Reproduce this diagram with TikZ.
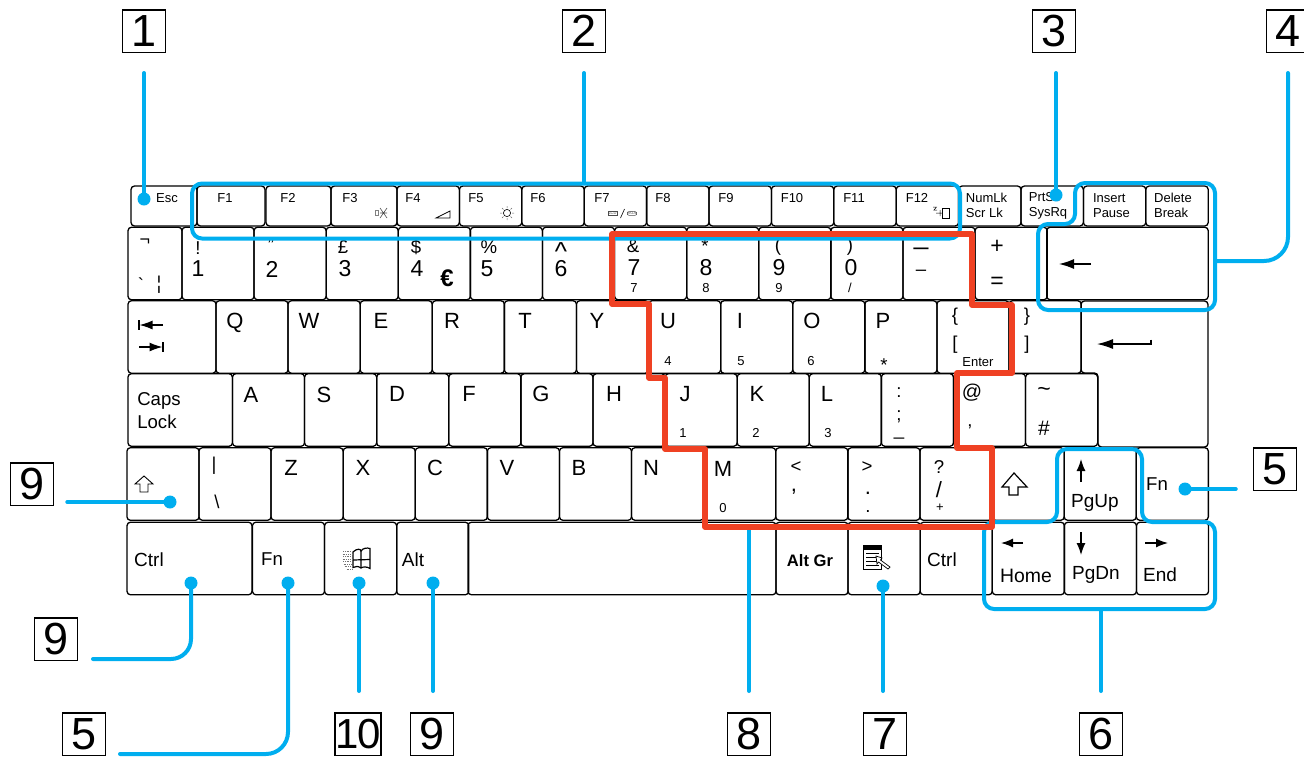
\documentclass[tikz,border=0pt]{standalone}
\usepackage{fontspec}
\setmainfont{Liberation Sans}
\usetikzlibrary{arrows.meta}
\usetikzlibrary{positioning}
\definecolor{calloutblue}{RGB}{0,174,239}
\definecolor{groupred}{RGB}{239,65,35}
\tikzset{
    keycap/.style={
           draw=black, line width=1.3pt,
           rectangle, rounded corners=3.5pt,
           inner sep=0pt, outer sep=0pt,
           },
}
\tikzset{
    fkey/.style={
           keycap,
           minimum width=62.4pt, minimum height=40pt,
           node distance=62.4pt,
           },
}
\tikzset{
    bigkey/.style={
           keycap,
           minimum width=72.1pt, minimum height=72.6pt,
           node distance=72.1pt,
           },
}
\tikzset{
    capxl/.style={inner sep=0pt, font=\fontsize{23}{23}\selectfont},
    capl/.style={inner sep=0pt, font=\fontsize{22}{22}\selectfont},
    capm/.style={inner sep=0pt, font=\fontsize{18.6}{23}\selectfont, align=left},
    caps/.style={inner sep=0pt, font=\fontsize{13}{15}\selectfont, align=left},
    capsub/.style={inner sep=0pt, font=\fontsize{13}{13}\selectfont},
}
\tikzset{
    glyph/.style={line width=1.3pt, -{Latex[length=12pt,width=9pt]}},
    outline/.style={draw=black, line width=0.9pt, fill=white},
}
\tikzset{
    calloutnum/.style={
           draw=black, line width=1.5pt,
           rectangle, minimum width=43pt, minimum height=42.5pt,
           inner sep=0pt,
           font=\fontsize{45}{45}\selectfont,
           },
}
\tikzset{
    dot/.style={
           circle, fill=calloutblue,
           minimum size=13pt, inner sep=0pt,
           },
    leader/.style={
           draw=calloutblue, line width=4pt, line cap=round,
           },
    bluegroup/.style={
           draw=calloutblue, line width=4pt, rounded corners=10pt,
           },
    redgroup/.style={
           draw=groupred, line width=5.5pt, line join=round,
           },
}

\begin{document}
\begin{tikzpicture}[x=1pt,y=-1pt]
\useasboundingbox (0,0) rectangle (1304,756);
\node[fkey,minimum width=66pt] (esc) at (164,206) {};
\node[fkey,minimum width=68pt] (f1) at (231,206) {};
\node[fkey,minimum width=65pt] (f2) at (298.5,206) {};
\node[fkey,minimum width=66pt] (f3) at (364,206) {};
\node[fkey] (f4) at (428.2,206) {};
\node[fkey,right of=f4] (f5) {};
\node[fkey,right of=f5] (f6) {};
\node[fkey,right of=f6] (f7) {};
\node[fkey,right of=f7] (f8) {};
\node[fkey,right of=f8] (f9) {};
\node[fkey,right of=f9] (f10) {};
\node[fkey,right of=f10] (f11) {};
\node[fkey,right of=f11] (f12) {};
\node[fkey,right of=f12] (numlk) {};
\node[fkey,right of=numlk] (prtsc) {};
\node[fkey,right of=prtsc] (insert) {};
\node[fkey,right of=insert] (delete) {};

\node[bigkey,minimum width=54pt] (nott) at (155,263.5) {};
\node[bigkey] (k1) at (218,263.5) {};
\node[bigkey,right of=k1] (k2) {};
\node[bigkey,right of=k2] (k3) {};
\node[bigkey,right of=k3] (k4) {};
\node[bigkey,right of=k4] (k5) {};
\node[bigkey,right of=k5] (k6) {};
\node[bigkey,right of=k6] (k7) {};
\node[bigkey,right of=k7] (k8) {};
\node[bigkey,right of=k8] (k9) {};
\node[bigkey,right of=k9] (k0) {};
\node[bigkey,right of=k0] (minus) {};
\node[bigkey,right of=minus] (equal) {};
\node[bigkey,minimum width=161.5pt] (backsp) at (1127.5,263.5) {};

\node[bigkey,minimum width=88pt] (tab) at (172,337) {};
\node[bigkey] (q) at (252,337) {};
\node[bigkey,right of=q] (w) {};
\node[bigkey,right of=w] (e) {};
\node[bigkey,right of=e] (r) {};
\node[bigkey,right of=r] (t) {};
\node[bigkey,right of=t] (y) {};
\node[bigkey,right of=y] (u) {};
\node[bigkey,right of=u] (i) {};
\node[bigkey,right of=i] (o) {};
\node[bigkey,right of=o] (p) {};
\node[bigkey,right of=p] (lbrace) {};
\node[bigkey,right of=lbrace] (rbrace) {};

\node[bigkey,minimum width=104.5pt] (caps) at (180.2,410) {};
\node[bigkey] (a) at (268.5,410) {};
\node[bigkey,right of=a] (s) {};
\node[bigkey,right of=s] (d) {};
\node[bigkey,right of=d] (f) {};
\node[bigkey,right of=f] (g) {};
\node[bigkey,right of=g] (h) {};
\node[bigkey,right of=h] (j) {};
\node[bigkey,right of=j] (k) {};
\node[bigkey,right of=k] (l) {};
\node[bigkey,right of=l] (semi) {};
\node[bigkey,right of=semi] (at) {};
\node[bigkey,right of=at] (hash) {};
\draw[keycap] (1081,301) -- (1208,301) -- (1208,447) -- (1098,447) -- (1098,373) -- (1081,373) -- cycle;

\node[bigkey] (lshift) at (163,484) {};
\node[bigkey] (bar) at (235,484) {};
\node[bigkey,right of=bar] (z) {};
\node[bigkey,right of=z] (x) {};
\node[bigkey,right of=x] (c) {};
\node[bigkey,right of=c] (v) {};
\node[bigkey,right of=v] (b) {};
\node[bigkey,right of=b] (n) {};
\node[bigkey,right of=n] (m) {};
\node[bigkey,right of=m] (comma) {};
\node[bigkey,right of=comma] (dot) {};
\node[bigkey,right of=dot] (slash) {};
\node[bigkey,right of=slash] (rshift) {};
\node[bigkey,right of=rshift] (pgup) {};
\node[bigkey,right of=pgup] (fnr) {};

\node[bigkey,minimum width=125pt] (lctrl) at (189.5,558.5) {};
\node[bigkey] (fnl) at (288.5,558.5) {};
\node[bigkey,right of=fnl] (win) {};
\node[bigkey,right of=win] (alt) {};
\node[bigkey,minimum width=308pt] (space) at (622,558.5) {};
\node[bigkey] (altgr) at (812,558.5) {};
\node[bigkey,right of=altgr] (menu) {};
\node[bigkey,right of=menu] (rctrl) {};
\node[bigkey,right of=rctrl] (home) {};
\node[bigkey,right of=home] (pgdn) {};
\node[bigkey,right of=pgdn] (end) {};

\node[caps] (lesc) at (167,198) {Esc};
\node[caps] (lf1) at (225,198) {F1};
\node[caps] (lf2) at (288,198) {F2};
\node[caps] (lf3) at (350,198) {F3};
\node[caps] (lf4) at (413,198) {F4};
\node[caps] (lf5) at (476,198) {F5};
\node[caps] (lf6) at (538,198) {F6};
\node[caps] (lf7) at (602,198) {F7};
\node[caps] (lf8) at (663,198) {F8};
\node[caps] (lf9) at (726,198) {F9};
\node[caps] (lf10) at (792,198) {F10};
\node[caps] (lf11) at (854,198) {F11};
\node[caps] (lf12) at (917,198) {F12};
\node[caps] (lnumlk) at (986.5,205.5) {NumLk\\Scr Lk};
\node[caps] (lprtsc) at (1048,205.5) {PrtSc\\SysRq};
\node[caps] (linsert) at (1111.5,205.5) {Insert\\Pause};
\node[caps] (ldelete) at (1173,205.5) {Delete\\Break};

\node[inner sep=0pt,font=\fontsize{18}{18}\selectfont] (lnot) at (145,242) {¬};
\node[capm] (lgrave) at (141,285) {\textasciigrave};
\node[capm] (lbrk) at (159,285) {¦};
\node[capm] (lbang) at (198,248) {!};
\node[capxl] (l1) at (198,269) {1};
\node[capm] (lquote) at (271,245) {"};
\node[capxl] (l2) at (272,269) {2};
\node[capm] (lpound) at (343,247) {£};
\node[capxl] (l3) at (345,269) {3};
\node[capm] (ldollar) at (416,247) {\$};
\node[capxl] (l4) at (417,269) {4};
\node[inner sep=0pt,font=\fontsize{24}{24}\selectfont\bfseries] (leuro) at (447,278) {€};
\node[capm] (lpercent) at (489,247) {\%};
\node[capxl] (l5) at (487,269) {5};
\node[inner sep=0pt,font=\fontsize{26}{26}\selectfont] (lcaret) at (561,252) {\textasciicircum};
\node[capxl] (l6) at (561,269) {6};
\node[capm] (lamp) at (633,246) {\&};
\node[capxl] (l7) at (634,268) {7};
\node[capsub] (s7) at (634,288) {7};
\node[capm] (lstar) at (705,246) {*};
\node[capxl] (l8) at (706,268) {8};
\node[capsub] (s8) at (706,288) {8};
\node[capm] (lpo) at (778,247) {(};
\node[capxl] (l9) at (779,268) {9};
\node[capsub] (s9) at (779,288) {9};
\node[capm] (lpc) at (850,247) {)};
\node[capxl] (l0) at (851,268) {0};
\node[capsub] (s0) at (850,288) {/};
\node[inner sep=0pt,font=\fontsize{26}{26}\selectfont] (lunder) at (921,247) {\_};
\node[capm] (ldash) at (921,273) {\textendash};
\node[capxl] (lplus) at (997,247) {+};
\node[capxl] (leq) at (997,283) {=};

\node[capl] (lq) at (235,323) {Q};
\node[capl] (lw) at (309,321) {W};
\node[capl] (le) at (381,321) {E};
\node[capl] (lr) at (452,321) {R};
\node[capl] (lt) at (525,321) {T};
\node[capl] (ly) at (597,321) {Y};
\node[capl] (lu) at (668,321) {U};
\node[capl] (li) at (740,321) {I};
\node[capl] (lo) at (812,321) {O};
\node[capl] (lp) at (883,321) {P};
\node[capsub] (s4) at (668,361) {4};
\node[capsub] (s5) at (741,361) {5};
\node[capsub] (s6) at (811,361) {6};
\node[capm] (sstar) at (884,365) {*};
\node[capm] (llbrace) at (955,317) {\{};
\node[capm] (llbrack) at (955,345) {[};
\node[caps] (lenter) at (978,362) {Enter};
\node[capm] (lrbrace) at (1027,317) {\}};
\node[capm] (lrbrack) at (1027,345) {]};

\node[capm] (lcaps) at (159,410.5) {Caps\\Lock};
\node[capl] (la) at (251,395) {A};
\node[capl] (ls) at (324,395) {S};
\node[capl] (ld) at (397,394) {D};
\node[capl] (lf) at (469,394) {F};
\node[capl] (lg) at (541,394) {G};
\node[capl] (lh) at (614,394) {H};
\node[capl] (lj) at (685,394) {J};
\node[capl] (lk) at (757,394) {K};
\node[capl] (ll) at (827,394) {L};
\node[capsub] (s1) at (683,433) {1};
\node[capsub] (s2) at (756,433) {2};
\node[capsub] (s3) at (828,433) {3};
\node[capm] (lcolon) at (899,393) {:};
\node[capm] (lsemi) at (899,417) {;};
\node[capm] (lunder2) at (899,437) {\_};
\node[capm,font=\fontsize{20}{20}\selectfont] (lat) at (972,393) {@};
\node[capm] (lapos) at (970,431) {'};
\node[capxl] (ltilde) at (1044,392) {\textasciitilde};
\node[capm,font=\fontsize{21}{21}\selectfont] (lhash) at (1044,428) {\#};

\node[capm] (lbar) at (214,466) {|};
\node[capm] (lbslash) at (217,502) {\textbackslash};
\node[capl] (lz) at (291,468) {Z};
\node[capl] (lx) at (363,468) {X};
\node[capl] (lc) at (435,468) {C};
\node[capl] (lv) at (507,468) {V};
\node[capl] (lb) at (579,468) {B};
\node[capl] (ln) at (651,468) {N};
\node[capl] (lm) at (723,469) {M};
\node[capsub] (szero) at (723,508) {0};
\node[capm] (lless) at (796,467) {<};
\node[capl] (lcomma) at (794,492) {,};
\node[capm] (lgreater) at (867,467) {>};
\node[capl] (lper) at (868,493) {.};
\node[capm] (lper2) at (868,511) {.};
\node[capm] (lquest) at (939,467) {?};
\node[capl] (lslash) at (939,490) {/};
\node[capsub] (splus) at (940,508) {+};
\node[capm,font=\fontsize{19}{19}\selectfont] (lpgup) at (1095,503) {PgUp};
\node[capm] (lfnr) at (1157,484) {Fn};

\node[capm,font=\fontsize{19}{19}\selectfont] (lctrl1) at (149,560) {Ctrl};
\node[capm] (lfnl) at (272,559) {Fn};
\node[capm,font=\fontsize{19}{19}\selectfont] (lalt) at (413,560) {Alt};
\node[inner sep=0pt,font=\fontsize{16.6}{16.6}\selectfont\bfseries] (laltgr) at (810,561) {Alt Gr};
\node[capm,font=\fontsize{19}{19}\selectfont] (lctrl2) at (942,560) {Ctrl};
\node[capm,font=\fontsize{19.4}{19.4}\selectfont] (lhome) at (1026,576) {Home};
\node[capm,font=\fontsize{19}{19}\selectfont] (lpgdn) at (1096,575) {PgDn};
\node[capm,font=\fontsize{19}{19}\selectfont] (lend) at (1160,575) {End};

\draw[glyph,-{Latex[length=15pt,width=10pt]}] (1091,264) -- (1059,264);
\draw[glyph,-{Latex[length=13pt,width=9pt]}] (163,325) -- (139.5,325);
\draw[line width=1.3pt] (139,320) -- (139,330);
\draw[glyph,-{Latex[length=13pt,width=9pt]}] (139,347) -- (162.5,347);
\draw[line width=1.3pt] (163,342) -- (163,352);
\draw[glyph,-{Latex[length=16pt,width=10pt]}] (1151,344) -- (1097,344);
\draw[line width=1.3pt] (1151,339.5) -- (1151,344.5);
\draw[glyph] (1081,482) -- (1081,459);
\draw[glyph] (1023,543) -- (1001,543);
\draw[glyph] (1081,532) -- (1081,555);
\draw[glyph] (1145,543) -- (1168,543);
\draw[outline] (144,476) -- (153,484) -- (148,484) -- (148,492) -- (140,492) -- (140,484) -- (135,484) -- cycle;
\draw[outline,line width=1.2pt] (1014,473) -- (1027,487) -- (1018,487) -- (1018,495) -- (1009,495) -- (1009,487) -- (1002,487) -- cycle;

\draw[line width=0.5pt,gray] (375,210.5) rectangle (378,215);
\draw[line width=0.6pt,black!70] (380,208) -- (387,218) (387,208) -- (380,218) (380,213) -- (387,213);
\draw[line width=0.7pt] (436,218) -- (450,218) -- (450,211) -- cycle;
\draw[line width=0.6pt] (507,213) circle (3.6pt);
\draw[line width=0.5pt,black!60] (507,206) -- (507,208) (507,218) -- (507,220) (500,213) -- (502,213) (512,213) -- (514,213) (502,208) -- (503.4,209.4) (510.6,216.6) -- (512,218) (512,208) -- (510.6,209.4) (503.4,216.6) -- (502,218);
\node[draw=black!70,line width=0.5pt,inner sep=0.5pt,text=black!70,font=\fontsize{4}{4}\selectfont] (llcd) at (612.5,213.5) {LCD};
\draw[line width=0.6pt] (620.5,218) -- (624.5,209);
\node[draw=black!70,line width=0.5pt,rounded corners=2pt,inner sep=0.5pt,text=black!70,font=\fontsize{4}{4}\selectfont] (lvga) at (632,213.5) {VGA};
\draw[line width=0.7pt] (942.5,208.5) -- (949,208.5) -- (949,218) -- (942.5,218) -- cycle;
\draw[line width=0.5pt] (933,207) -- (936.5,207) -- (934,210) -- (937,210) (936,213) -- (942,213) (940,210) -- (940,216);

\draw[line width=1.2pt,fill=white] (353,552) .. controls (357,548) and (361,549) .. (361,551) .. controls (363,548) and (367,547.5) .. (370,548.5) -- (370,568.5) .. controls (367,566.5) and (363,566.5) .. (361,568) .. controls (358,566) and (356,566) .. (353,567.5) -- cycle;
\draw[line width=1.2pt] (361,551) -- (361,568) (353,560) -- (370,559.5);
\draw[line width=1pt,dash pattern=on 1pt off 0.8pt,black!55] (343,551.5) -- (352,551.5) (342.5,554) -- (352,554) (343,556.5) -- (352,556.5) (342.5,559) -- (352,559) (343,561.5) -- (352,561.5) (343.5,564) -- (352,564) (344.5,566.5) -- (352,566.5) (346.5,569) -- (352,569);

\fill (863,544.5) rectangle (882,548.5);
\draw[line width=1pt,fill=white] (863.5,549.5) rectangle (881.5,569);
\draw[line width=1pt] (866,553) -- (879,553) (866,557) -- (879,557) (866,561) -- (879,561) (866,565) -- (879,565);
\draw[line width=0.7pt,fill=white] (876,556) -- (882,558) -- (880.5,560) -- (890,567) -- (888,569) -- (878.5,562) -- (877,564) -- cycle;

\node[calloutnum] (n1) at (144,31) {1};
\node[calloutnum] (n2) at (584,31) {2};
\node[calloutnum] (n3) at (1054,31) {3};
\node[calloutnum] (n4) at (1288,31) {4};
\node[calloutnum] (n5r) at (1275,469) {5};
\node[calloutnum] (n9s) at (32,484) {9};
\node[calloutnum] (n9c) at (56,639) {9};
\node[calloutnum] (n5b) at (84,734) {5};
\node[calloutnum,minimum width=46pt,font=\fontsize{42}{42}\selectfont] (n10) at (358,734) {1\kern-1.5pt0};
\node[calloutnum] (n9a) at (432,734) {9};
\node[calloutnum] (n8) at (749,734) {8};
\node[calloutnum] (n7) at (885,734) {7};
\node[calloutnum] (n6) at (1101,734) {6};

\node[bluegroup,minimum width=768pt,minimum height=55pt,inner sep=0pt] (fgroup) at (576,211) {};
\draw[bluegroup] (1075,183) -- (1215,183) -- (1215,310) -- (1038,310) -- (1038,224) -- (1075,224) -- cycle;
\draw[bluegroup] (1057,449) -- (1142,449) -- (1142,522) -- (1215,522) -- (1215,609) -- (984,609) -- (984,522) -- (1057,522) -- cycle;
\coordinate (g4) at (1215,261);
\coordinate (g6) at (1101,609);
\coordinate (g8) at (749,527);

\node[dot] (dotesc) at (144,199) {};
\node[dot] (dotprt) at (1056,195) {};
\node[dot] (dotfnr) at (1185,489) {};
\node[dot] (dotsh) at (170,502) {};
\node[dot] (dotctrl) at (191,583) {};
\node[dot] (dotfnl) at (288,583) {};
\node[dot] (dotwin) at (359,583) {};
\node[dot] (dotalt) at (433,583) {};
\node[dot] (dotmenu) at (883,586) {};
\coordinate (t5b) at (120,754);
\coordinate (t9c) at (93,659);

\draw[leader] ([yshift=-20pt]n1.south -| dotesc) -- (dotesc);
\draw[leader] ([yshift=-20pt]n2.south) -- (n2 |- fgroup.north);
\draw[leader] ([yshift=-20pt]n3.south -| dotprt) -- (dotprt);
\draw[leader,rounded corners=24pt] (g4) -- (g4 -| n4) -- ([yshift=-20pt]n4.south);
\draw[leader] ([xshift=-17pt]n5r.west |- dotfnr) -- (dotfnr);
\draw[leader] ([xshift=13pt]n9s.east |- dotsh) -- (dotsh);
\draw[leader,rounded corners=20pt] (t9c) -- (t9c -| dotctrl) -- (dotctrl);
\draw[leader,rounded corners=22pt] (t5b) -- (t5b -| dotfnl) -- (dotfnl);
\draw[leader] ([yshift=21pt]n10.north -| dotwin) -- (dotwin);
\draw[leader] ([yshift=21pt]n9a.north -| dotalt) -- (dotalt);
\draw[leader] ([yshift=21pt]n8.north) -- (g8);
\draw[leader] ([yshift=21pt]n7.north -| dotmenu) -- (dotmenu);
\draw[leader] ([yshift=21pt]n6.north) -- (g6);

\draw[redgroup] (612,234) -- (612,304) -- (649,304) -- (649,378) -- (665,378) -- (665,449) -- (705,449) -- (705,527) -- (992,527) -- (992,448) -- (957,448) -- (957,373) -- (1012,373) -- (1012,305) -- (972,305) -- (972,234) -- cycle;
\end{tikzpicture}
\end{document}
